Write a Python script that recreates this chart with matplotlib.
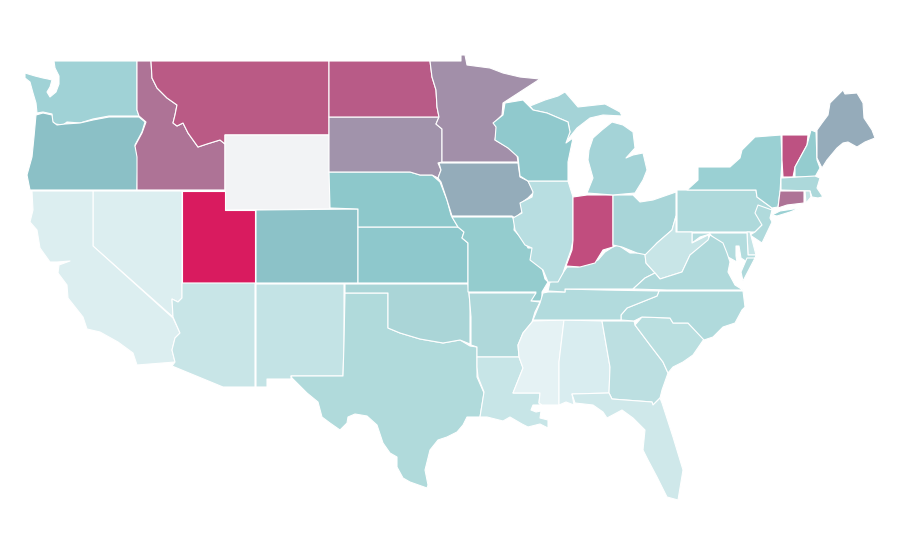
import matplotlib
matplotlib.use("Agg")
import matplotlib.pyplot as plt
from matplotlib.patches import Polygon

WA = [(54,61),(137,61),(137,110),(139,116),(109,116),(93,119),(80,123),(67,122),(63,125),(55,124),(52,121),(52,114),(43,112),(37,113),(36,103),(33,93),(30,82),(25,78),(25,73),(35,76),(43,78),(48,79),(52,80),(50,87),(47,92),(50,97),(56,92),(59,84),(59,76),(55,68)]
OR = [(36,115),(43,113),(52,115),(53,122),(57,125),(65,124),(80,123),(93,120),(109,117),(139,117),(145,122),(142,132),(135,145),(138,157),(137,190),(30,190),(27,175),(32,157),(34,137)]
ID = [(137,61),(151,61),(152,78),(157,88),(167,98),(177,105),(175,115),(173,123),(177,126),(183,123),(188,133),(198,147),(207,144),(220,140),(225,144),(225,190),(137,190),(137,157),(135,146),(142,133),(146,122),(139,116),(137,110)]
MT = [(151,61),(329,61),(329,135),(225,135),(225,144),(220,140),(207,144),(198,147),(188,133),(183,123),(177,126),(173,123),(175,115),(177,105),(167,98),(157,88),(152,78)]
WY = [(225,135),(329,135),(330,209),(225,210)]
UT = [(182,191),(225,191),(225,210),(255,210),(255,283),(182,283)]
NV = [(93,191),(182,191),(182,298),(178,302),(172,299),(173,317),(93,246)]
CA = [(32,191),(93,191),(93,246),(173,318),(180,333),(175,338),(172,350),(175,362),(137,365),(133,353),(118,342),(100,332),(87,329),(83,317),(68,298),(67,285),(58,273),(59,265),(70,261),(57,262),(50,262),(40,248),(37,230),(30,222),(33,210)]
AZ = [(182,283),(255,283),(255,387),(223,387),(172,366),(175,362),(172,350),(175,338),(180,333),(173,317),(172,299),(178,302),(182,298)]
NM = [(256,284),(344,284),(344,343),(343,376),(291,376),(291,379),(267,379),(267,387),(256,387)]
TX = [(345,293),(388,293),(388,328),(400,333),(420,339),(443,343),(460,340),(470,346),(477,347),(477,377),(484,393),(480,417),(467,417),(463,425),(457,432),(447,437),(438,440),(430,450),(427,462),(425,470),(428,485),(427,488),(410,482),(403,478),(397,467),(397,457),(390,453),(383,443),(377,425),(367,416),(355,414),(348,417),(347,423),(340,430),(330,423),(322,417),(318,402),(307,393),(292,378),(291,376),(343,376),(344,343)]
OK = [(345,284),(468,284),(470,303),(470,344),(460,340),(443,343),(420,339),(400,333),(388,328),(388,293),(345,293)]
CO = [(256,210),(358,209),(358,283),(256,283)]
KS = [(358,227),(458,227),(464,232),(462,238),(468,243),(468,283),(358,283)]
NE = [(329,172),(410,172),(420,175),(432,175),(440,182),(447,200),(451,215),(458,227),(358,227),(358,209),(330,208)]
SD = [(329,117),(439,117),(436,124),(442,129),(442,162),(438,163),(441,170),(438,178),(432,175),(420,175),(410,172),(329,172)]
ND = [(329,61),(430,61),(432,77),(436,90),(437,107),(439,117),(329,117)]
MN = [(430,61),(461,61),(461,55),(465,55),(467,65),(490,68),(503,73),(520,77),(540,79),(523,90),(503,103),(502,115),(494,123),(497,128),(495,140),(507,147),(517,155),(518,162),(442,162),(442,129),(436,124),(439,117),(437,107),(436,90),(432,77)]
IA = [(439,163),(518,163),(520,177),(528,181),(534,192),(528,198),(521,203),(522,212),(515,218),(512,216),(452,216),(447,200),(441,182),(438,178),(441,170)]
MO = [(452,217),(512,217),(515,220),(514,230),(525,242),(528,248),(533,248),(531,260),(542,268),(545,279),(548,282),(542,292),(542,301),(530,301),(536,292),(468,292),(468,243),(462,238),(464,232),(458,227)]
AR = [(469,293),(536,293),(531,301),(540,302),(535,312),(532,322),(523,333),(518,345),(519,357),(477,357),(477,347),(471,345),(471,317)]
LA = [(477,357),(519,357),(523,368),(513,393),(540,393),(539,403),(541,405),(533,405),(531,410),(536,412),(541,411),(540,418),(548,420),(548,428),(540,424),(528,427),(522,424),(510,417),(503,421),(487,417),(480,417),(484,392),(478,377),(477,367)]
MS = [(533,321),(564,320),(559,362),(559,405),(542,405),(539,403),(540,393),(513,393),(523,368),(519,357),(518,345),(523,333)]
AL = [(564,320),(602,321),(610,367),(609,393),(572,394),(574,405),(566,402),(559,405),(559,362)]
GA = [(602,321),(634,321),(635,325),(650,345),(663,362),(668,373),(662,390),(660,398),(653,405),(652,402),(612,399),(609,393),(610,367)]
SC = [(635,325),(642,317),(670,318),(673,323),(688,323),(704,339),(693,355),(683,362),(673,367),(668,373),(663,362),(650,345)]
NC = [(667,291),(743,291),(745,307),(742,310),(735,323),(723,327),(713,337),(704,340),(688,323),(673,323),(670,318),(642,317),(634,321),(621,320),(621,315),(627,308),(642,302),(657,296),(659,291)]
TN = [(565,289),(603,290),(659,291),(657,296),(642,302),(627,308),(621,315),(621,320),(564,320),(533,320),(540,303),(543,293),(548,292),(565,292)]
KY = [(548,291),(550,282),(558,280),(567,267),(578,267),(588,263),(598,260),(605,252),(613,247),(618,245),(630,253),(645,253),(646,263),(655,273),(645,278),(633,289),(603,289),(565,289),(565,292)]
IL = [(528,181),(568,181),(573,197),(573,240),(571,250),(565,267),(563,273),(558,282),(548,282),(543,270),(530,260),(532,248),(525,245),(515,230),(513,218),(522,213),(520,203),(532,197),(533,192)]
IN = [(573,197),(587,195),(613,195),(613,247),(603,250),(595,263),(580,267),(566,266),(572,250),(573,240)]
OH = [(613,195),(633,195),(640,202),(653,200),(676,192),(676,216),(672,230),(657,243),(647,255),(637,253),(622,247),(613,245)]
MI_LOWER = [(587,193),(593,178),(588,160),(589,150),(593,138),(602,130),(612,122),(623,125),(633,132),(635,148),(626,158),(633,155),(643,153),(647,170),(643,180),(635,193),(613,195)]
MI_UPPER = [(530,106),(545,100),(558,96),(565,92),(572,100),(578,107),(605,104),(620,112),(622,116),(603,115),(590,118),(577,128),(565,143),(570,132),(568,122),(547,113),(533,110)]
WI = [(505,103),(523,100),(533,110),(547,113),(568,122),(570,132),(566,143),(573,138),(568,162),(568,181),(528,181),(520,176),(518,157),(508,148),(495,140),(496,127),(493,123),(503,115)]
PA = [(677,190),(756,190),(757,197),(772,208),(768,217),(762,225),(755,232),(677,232)]
NY = [(687,190),(698,180),(698,167),(730,167),(740,158),(742,150),(755,137),(781,135),(782,160),(780,192),(778,207),(772,208),(757,197),(756,190)]
NY_ISLAND = [(772,215),(780,211),(800,208),(790,212),(777,216)]
VT = [(782,135),(808,135),(807,145),(795,167),(793,177),(783,177),(782,160)]
NH = [(811,130),(816,132),(817,160),(820,168),(815,177),(795,177),(795,167),(807,145)]
ME = [(817,130),(822,123),(828,115),(830,103),(838,95),(843,90),(845,94),(857,93),(863,103),(864,118),(872,130),(875,138),(865,142),(857,147),(848,142),(843,143),(837,148),(827,160),(822,168),(817,158)]
MA = [(781,178),(815,176),(820,178),(817,188),(823,197),(830,195),(818,198),(812,197),(810,191),(781,190)]
CT = [(780,191),(804,191),(804,203),(787,205),(778,208)]
RI = [(805,191),(810,191),(811,197),(806,203)]
NJ = [(758,205),(772,210),(770,218),(772,222),(762,243),(750,235),(755,232),(762,225),(755,213)]
DE = [(747,232),(750,232),(756,255),(748,255)]
MD = [(692,233),(747,233),(748,255),(756,255),(755,258),(747,262),(741,258),(739,246),(736,246),(736,256),(737,262),(728,257),(723,250),(717,242),(710,234),(700,237),(692,243)]
WV = [(646,263),(645,255),(657,243),(672,230),(676,216),(676,232),(692,232),(692,243),(708,235),(710,240),(690,255),(682,272),(660,279),(655,273)]
VA = [(633,289),(645,278),(655,273),(660,279),(682,272),(690,255),(708,240),(710,235),(723,243),(727,253),(730,262),(728,272),(735,285),(743,290),(667,290)]
VA_SHORE = [(747,258),(755,258),(743,281),(741,272)]
FL = [(572,394),(609,393),(612,399),(652,402),(653,405),(660,398),(662,403),(673,437),(683,470),(678,500),(667,497),(657,477),(648,460),(643,450),(645,430),(633,418),(622,410),(607,418),(603,412),(593,405),(575,403)]

state_shapes = [
    (WA,"#a0d2d6"),(OR,"#8bc0c6"),(ID,"#ae7396"),(MT,"#ba5a85"),(WY,"#f2f3f5"),(UT,"#d91b5f"),
    (NV,"#dceef0"),(CA,"#dceef0"),(AZ,"#c8e5e7"),(NM,"#c3e3e5"),(TX,"#b0dadb"),(OK,"#aad5d7"),
    (CO,"#8cc2c8"),(KS,"#8ec8cc"),(NE,"#8dc8cb"),(SD,"#a193ab"),(ND,"#b85b87"),(MN,"#a28fa9"),
    (IA,"#94acba"),(MO,"#94ccce"),(AR,"#afd8da"),(LA,"#c7e5e7"),(MS,"#e5f2f4"),(AL,"#d9edf0"),
    (GA,"#bcdfe1"),(SC,"#badfe0"),(NC,"#b0dadc"),(TN,"#b2dbdd"),(KY,"#b0d9db"),(IL,"#b8dee1"),
    (IN,"#c14d7e"),(OH,"#a8d5d8"),(MI_LOWER,"#a4d3d7"),(MI_UPPER,"#a4d3d7"),(WI,"#90c9cd"),
    (PA,"#aed9db"),(NY,"#9ad0d3"),(NY_ISLAND,"#9ad0d3"),(VT,"#bd5282"),(NH,"#94cccf"),(ME,"#95abba"),
    (MA,"#acd8da"),(CT,"#ae7396"),(RI,"#c3e3e5"),(NJ,"#b0dadc"),(DE,"#c5e4e6"),(MD,"#b3dcde"),
    (WV,"#c8e5e7"),(VA,"#afd9db"),(VA_SHORE,"#afd9db"),(FL,"#cfe8ea"),
]

fig = plt.figure(figsize=(9, 5.6), dpi=100)
ax = fig.add_axes([0, 0, 1, 1])
for shape, colour in state_shapes:
    ax.add_patch(Polygon(shape, closed=True, facecolor=colour, edgecolor="white", linewidth=0.8, joinstyle="round"))
ax.set_xlim(0, 900)
ax.set_ylim(560, 0)
ax.axis("off")
fig.savefig("out.png", dpi=100)
